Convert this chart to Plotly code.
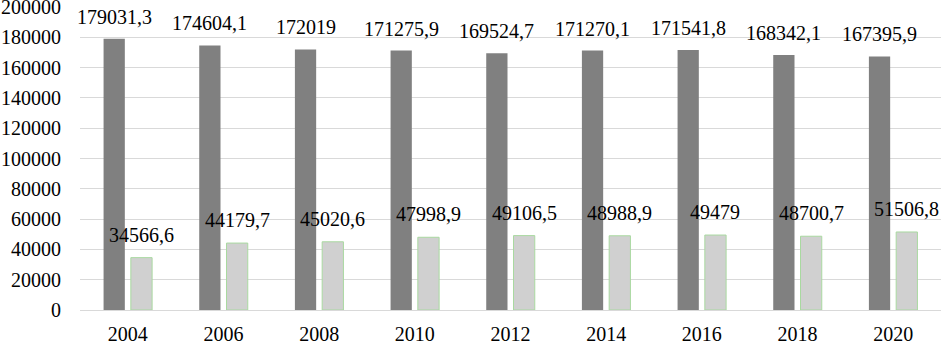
import plotly.graph_objects as go

years = ["2004", "2006", "2008", "2010", "2012", "2014", "2016", "2018", "2020"]
series_a = [179031.3, 174604.1, 172019, 171275.9, 169524.7, 171270.1, 171541.8, 168342.1, 167395.9]
series_b = [34566.6, 44179.7, 45020.6, 47998.9, 49106.5, 48988.9, 49479, 48700.7, 51506.8]
labels_a = ["179031,3", "174604,1", "172019", "171275,9", "169524,7", "171270,1", "171541,8", "168342,1", "167395,9"]
labels_b = ["34566,6", "44179,7", "45020,6", "47998,9", "49106,5", "48988,9", "49479", "48700,7", "51506,8"]
y_ticks = [0, 20000, 40000, 60000, 80000, 100000, 120000, 140000, 160000, 180000, 200000]

font = dict(family="Liberation Serif, Times New Roman, serif", size=20, color="#000000")

W, H = 941, 343
ML, MR, MT, MB = 80, 0, 7, 33
BARGAP, BARGROUPGAP = 0.43, 0.22

fig = go.Figure()
fig.add_trace(go.Bar(
    x=years, y=series_a, marker=dict(color="#808080", line=dict(width=0)), name="A",
))
fig.add_trace(go.Bar(
    x=years, y=series_b,
    marker=dict(color="#d0d0d0", line=dict(color="#a9d9a0", width=1)), name="B",
))

# value labels, placed above each bar of the group (category index on x axis)
cat_px = (W - ML - MR) / len(years)
slot_px = cat_px * (1 - BARGAP) / 2
annotations = []
for i, (va, vb, la, lb) in enumerate(zip(series_a, series_b, labels_a, labels_b)):
    annotations.append(dict(x=i, y=va, text=la, xref="x", yref="y", showarrow=False,
                            xanchor="center", yanchor="bottom", xshift=-slot_px / 2,
                            yshift=9, font=font))
    annotations.append(dict(x=i, y=vb, text=lb, xref="x", yref="y", showarrow=False,
                            xanchor="center", yanchor="bottom", xshift=slot_px / 2,
                            yshift=10, font=font))

fig.update_layout(
    width=W, height=H,
    margin=dict(l=ML, r=MR, t=MT, b=MB),
    paper_bgcolor="#ffffff", plot_bgcolor="#ffffff",
    barmode="group", bargap=BARGAP, bargroupgap=BARGROUPGAP,
    showlegend=False,
    font=font,
    annotations=annotations,
)
fig.update_xaxes(type="category", range=[-0.5, len(years) - 0.5],
                 showgrid=False, showline=False, ticks="", tickfont=font,
                 automargin=False, ticklabelstandoff=10)
fig.update_yaxes(
    range=[0, 200000], tickvals=y_ticks, ticktext=[str(v) for v in y_ticks],
    showgrid=True, gridcolor="#d9d9d9", gridwidth=1, zeroline=True,
    zerolinecolor="#d9d9d9", zerolinewidth=1, tickfont=font, ticks="",
    ticklabelstandoff=18, automargin=False, ticklabeloverflow="allow",
)

fig.write_html("out.html", config={"displayModeBar": False},
               post_script="document.body.style.margin='0';document.body.style.overflow='hidden';")
